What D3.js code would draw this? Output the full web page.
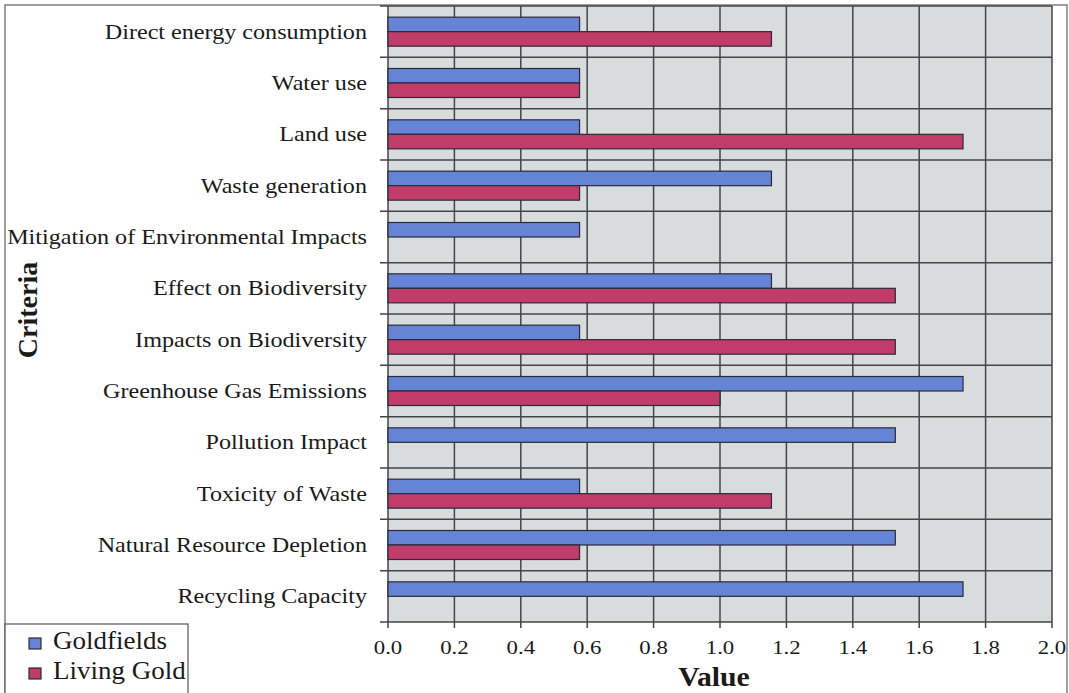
<!DOCTYPE html>
<html>
<head>
<meta charset="utf-8">
<script src="https://cdn.jsdelivr.net/npm/d3@7"></script>
<style>
  html, body { margin: 0; padding: 0; background: #ffffff; }
  svg { display: block; }
</style>
</head>
<body>
<svg id="chart" width="1069" height="693" font-family="'Liberation Serif', 'DejaVu Serif', serif"></svg>
<script>
// Criteria, top to bottom
const categories = [
  "Direct energy consumption",
  "Water use",
  "Land use",
  "Waste generation",
  "Mitigation of Environmental Impacts",
  "Effect on Biodiversity",
  "Impacts on Biodiversity",
  "Greenhouse Gas Emissions",
  "Pollution Impact",
  "Toxicity of Waste",
  "Natural Resource Depletion",
  "Recycling Capacity"
];
const seriesNames = ["Goldfields", "Living Gold"];
const goldfields = [0.577, 0.577, 0.577, 1.155, 0.577, 1.155, 0.577, 1.732, 1.528, 0.577, 1.528, 1.732];
const livingGold = [1.155, 0.577, 1.732, 0.577, 0, 1.528, 1.528, 1.0, 0, 1.155, 0.577, 0];
const xTicks = [0.0, 0.2, 0.4, 0.6, 0.8, 1.0, 1.2, 1.4, 1.6, 1.8, 2.0];
const seriesColors = ["#6684d6", "#c23c69"];

const svg = d3.select("#chart");
const textColor = "#1a1a1a";
const plot = { left: 388, right: 1052, top: 6, bottom: 622 };

const x = d3.scaleLinear().domain([0, 2.0]).range([plot.left, plot.right]);
const y = d3.scaleBand().domain(categories).range([plot.top, plot.bottom]).padding(0);
const ySub = d3.scaleBand().domain(seriesNames).range([0, y.bandwidth()])
  .paddingInner(0).paddingOuter(0.77);

// outer frame
svg.append("rect")
  .attr("x", 5).attr("y", 5).attr("width", 1062).attr("height", 700)
  .attr("fill", "none").attr("stroke", "#808080").attr("stroke-width", 1.5);

// plot background
svg.append("rect")
  .attr("x", plot.left).attr("y", plot.top)
  .attr("width", plot.right - plot.left).attr("height", plot.bottom - plot.top)
  .attr("fill", "#d8dcdc");

const gridColor = "#454545";

// horizontal lines at category boundaries (with tick stubs on the left)
const boundaries = categories.map(c => y(c)).concat([plot.bottom]);
svg.append("g").selectAll("line").data(boundaries).join("line")
  .attr("x1", plot.left - 8).attr("x2", plot.right)
  .attr("y1", d => d).attr("y2", d => d)
  .attr("stroke", gridColor).attr("stroke-width", 1.5);

// vertical grid lines with ticks below
svg.append("g").selectAll("line").data(xTicks).join("line")
  .attr("x1", d => x(d)).attr("x2", d => x(d))
  .attr("y1", plot.top).attr("y2", plot.bottom + 6)
  .attr("stroke", gridColor).attr("stroke-width", 1.5);

// bars
const rows = categories.map((c, i) => ({ cat: c, vals: [goldfields[i], livingGold[i]] }));
const rowG = svg.append("g").selectAll("g").data(rows).join("g")
  .attr("transform", d => `translate(0,${y(d.cat)})`);
rowG.selectAll("rect")
  .data(d => d.vals.map((v, k) => ({ series: seriesNames[k], value: v, k })).filter(e => e.value > 0))
  .join("rect")
  .attr("x", x(0))
  .attr("y", d => ySub(d.series))
  .attr("width", d => x(d.value) - x(0))
  .attr("height", ySub.bandwidth())
  .attr("fill", d => seriesColors[d.k])
  .attr("stroke", "#2a2a3a").attr("stroke-width", 1.2);

// category labels
svg.append("g").selectAll("text").data(categories).join("text")
  .attr("transform", d => `translate(367,${y(d) + y.bandwidth() / 2 + 7}) scale(1.15,1)`)
  .attr("text-anchor", "end")
  .attr("fill", textColor)
  .style("font-size", "21px")
  .text(d => d);

// x tick labels
svg.append("g").selectAll("text").data(xTicks).join("text")
  .attr("transform", d => `translate(${x(d)},654) scale(1.2,1)`)
  .attr("text-anchor", "middle")
  .attr("fill", textColor)
  .style("font-size", "19px")
  .text(d => d.toFixed(1));

// axis titles
svg.append("text")
  .attr("transform", "translate(714,686) scale(1.1,1)")
  .attr("text-anchor", "middle")
  .attr("fill", textColor)
  .style("font-size", "27px").style("font-weight", "bold")
  .text("Value");
svg.append("text")
  .attr("transform", "translate(37,310) rotate(-90)")
  .attr("text-anchor", "middle")
  .attr("fill", textColor)
  .style("font-size", "28px").style("font-weight", "bold")
  .text("Criteria");

// legend
const legend = svg.append("g");
legend.append("rect")
  .attr("x", 5).attr("y", 624).attr("width", 183).attr("height", 80)
  .attr("fill", "#ffffff").attr("stroke", "#555").attr("stroke-width", 1.2);
const legItems = legend.selectAll("g.item").data(seriesNames).join("g")
  .attr("class", "item")
  .attr("transform", (d, i) => `translate(0,${i * 30})`);
legItems.append("rect")
  .attr("x", 29).attr("y", 638).attr("width", 12).attr("height", 11)
  .attr("fill", (d, i) => seriesColors[i])
  .attr("stroke", "#2a2a3a").attr("stroke-width", 1.2);
legItems.append("text")
  .attr("transform", "translate(53,649) scale(1.08,1)")
  .attr("fill", textColor)
  .style("font-size", "25px")
  .text(d => d);
</script>
</body>
</html>
